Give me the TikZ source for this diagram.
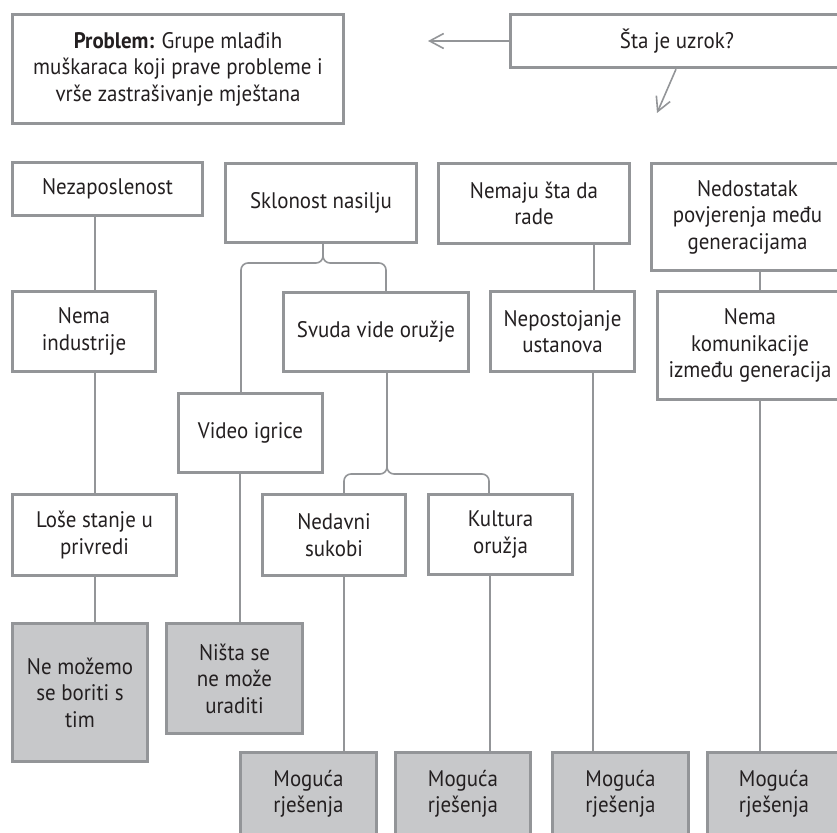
\documentclass[tikz,border=0pt]{standalone}
\usepackage{fontspec}
\setmainfont{PT Sans}[FakeStretch=0.93]
\usetikzlibrary{arrows.meta}
\definecolor{txt}{HTML}{231F20}
\definecolor{bord}{HTML}{939598}
\definecolor{fillg}{HTML}{C7C8CA}
\tikzset{
  box/.style={draw=bord, line width=3.3pt, fill=white, inner sep=0pt, align=center,
    text=txt, font=\fontsize{22.5}{26.5}\selectfont},
  gbox/.style={box, fill=fillg},
  conn/.style={draw=bord, line width=1.6pt},
  arr/.style={conn, -{Straight Barb[length=14pt, width=15pt, line width=1.6pt]}},
  brace/.style={conn, rounded corners=7pt}
}
\begin{document}
\begin{tikzpicture}[x=1pt,y=-1pt]
\useasboundingbox (0,0) rectangle (837,832);
\clip (0,0) rectangle (837,832);
% top row
\node[box, minimum width=331pt, minimum height=109pt] (prob) at (178,69)
  {\textbf{Problem:} Grupe mlađih\\muškaraca koji prave probleme i\\vrše zastrašivanje mještana};
\node[box, minimum width=333pt, minimum height=53pt] (sta) at (677,41) {Šta je uzrok?};
% row 1
\node[box, minimum width=190pt, minimum height=53pt] (nez) at (107.5,189) {Nezaposlenost};
\node[box, minimum width=191pt, minimum height=79pt] (skl) at (321,203) {Sklonost nasilju};
\node[box, minimum width=191pt, minimum height=80pt] (nem) at (534,203.5) {Nemaju šta da\\rade};
\node[box, minimum width=192pt, minimum height=107pt] (ned) at (747.5,217) {Nedostatak\\povjerenja među\\generacijama};
% row 2
\node[box, minimum width=143pt, minimum height=80pt] (nind) at (84,331.5) {Nema\\industrije};
\node[box, minimum width=185pt, minimum height=79pt] (svu) at (376,332) {Svuda vide oružje};
\node[box, minimum width=144pt, minimum height=80pt] (nep) at (562.5,331.5) {Nepostojanje\\ustanova};
\node[box, minimum width=185pt, minimum height=108pt] (nkom) at (750,345.5) {Nema\\komunikacije\\između generacija};
\node[box, minimum width=144pt, minimum height=79pt] (vid) at (250.5,433) {Video igrice};
% row 3
\node[box, minimum width=164pt, minimum height=81pt] (lose) at (94.5,535) {Loše stanje u\\privredi};
\node[box, minimum width=143pt, minimum height=81pt] (nedv) at (334,535) {Nedavni\\sukobi};
\node[box, minimum width=144pt, minimum height=80pt] (kul) at (500.5,534.5) {Kultura\\oružja};
% gray row
\node[gbox, minimum width=135pt, minimum height=138pt] (nemoz) at (80,692.5) {Ne možemo\\se boriti s\\tim};
\node[gbox, minimum width=136pt, minimum height=110pt] (nista) at (234.5,678.5) {Ništa se\\ne može\\uraditi};
\node[gbox, minimum width=136pt, minimum height=83pt] (mog1) at (308.5,794) {Moguća\\rješenja};
\node[gbox, minimum width=135pt, minimum height=83pt] (mog2) at (463,794) {Moguća\\rješenja};
\node[gbox, minimum width=136pt, minimum height=83pt] (mog3) at (620.5,794) {Moguća\\rješenja};
\node[gbox, minimum width=133pt, minimum height=83pt] (mog4) at (774,794) {Moguća\\rješenja};
% arrows from question
\coordinate (lt) at (428,41);
\coordinate (dn) at (657,113);
\draw[arr] (sta.west) -- (lt);
\draw[arr] (sta.south -| 676,0) -- (dn);
% connectors
\draw[conn] (nez.south -| 95,0) -- (nind.north -| 95,0);
\draw[conn] (nind.south -| 95,0) -- (lose.north -| 95,0);
\draw[conn] (lose.south -| 95,0) -- (nemoz.north -| 95,0);
\draw[brace] (vid.north -| 241,0) -- (241,263) -- (323,263) -- (skl.south -| 323,0);
\draw[brace] (svu.north -| 386,0) -- (386,263) -- (323,263) -- (skl.south -| 323,0);
\draw[conn] (vid.south -| 240,0) -- (nista.north -| 240,0);
\draw[brace] (nedv.north -| 344,0) -- (344,474) -- (387,474) -- (svu.south -| 387,0);
\draw[brace] (kul.north -| 489,0) -- (489,474) -- (387,474) -- (svu.south -| 387,0);
\draw[conn] (nedv.south -| 344,0) -- (mog1.north -| 344,0);
\draw[conn] (kul.south -| 490,0) -- (mog2.north -| 490,0);
\draw[conn] (nem.south -| 594,0) -- (nep.north -| 594,0);
\draw[conn] (nep.south -| 593,0) -- (mog3.north -| 593,0);
\draw[conn] (ned.south -| 760,0) -- (nkom.north -| 760,0);
\draw[conn] (nkom.south -| 760,0) -- (mog4.north -| 760,0);
\end{tikzpicture}
\end{document}
